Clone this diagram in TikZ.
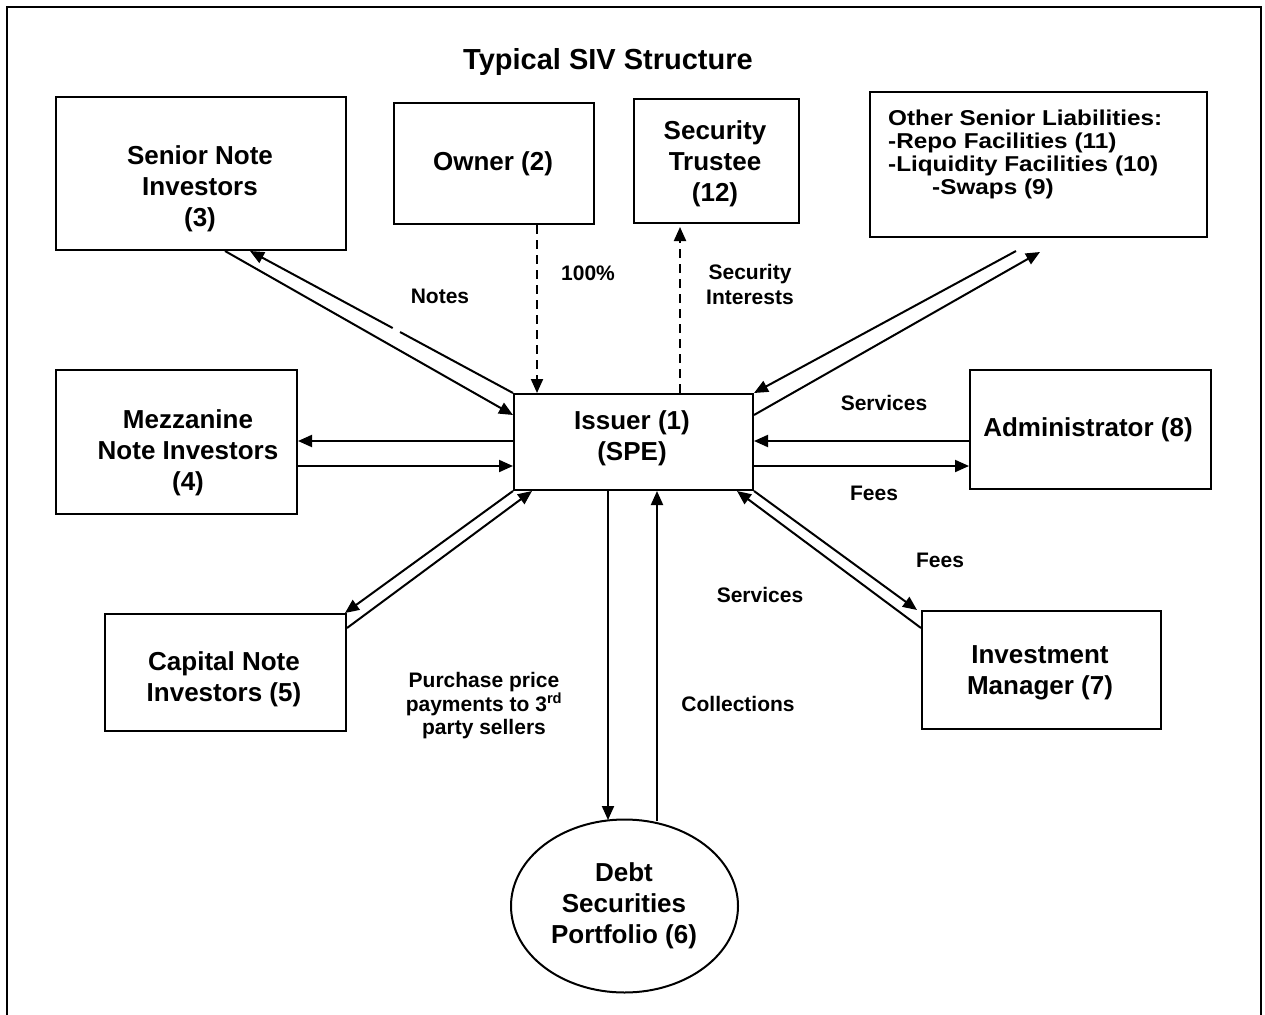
\documentclass[tikz,border=0pt]{standalone}
\usepackage{fontspec}
\usepackage{graphicx}
\setmainfont{Liberation Sans}
\usetikzlibrary{arrows.meta,calc,shapes.geometric}

% wide lettering used in the liabilities box
\newcommand{\widetext}[1]{\scalebox{1.13}[1]{#1}}

\begin{document}
\begin{tikzpicture}[x=1pt,y=-1pt,
  box/.style={draw, line width=2pt, inner sep=0pt, anchor=north west},
  btxt/.style={font=\fontsize{26}{31}\selectfont\bfseries, align=center, inner sep=0pt},
  lbl/.style={font=\fontsize{21}{24.5}\selectfont\bfseries, align=center, inner sep=0pt},
  arr/.style={line width=2pt, -{Triangle[length=14pt,width=12pt]}},
  darr/.style={arr, dash pattern=on 9pt off 6pt}
]
\useasboundingbox (0,0) rectangle (1265,1014);
% outer frame
\draw[line width=2.5pt] (7,7) rectangle (1261,1040);

% title
\node[font=\fontsize{29}{33}\selectfont\bfseries, inner sep=0pt] (title) at (608,62) {Typical SIV Structure};

% boxes
\node[box, minimum width=290pt, minimum height=153pt] (sni) at (55,96) {};
\node[btxt] (sni-t) at (200,189) {Senior Note\\Investors\\(3)};

\node[box, minimum width=200pt, minimum height=121pt] (own) at (393,102) {};
\node[btxt] (own-t) at (493,164) {Owner (2)};

\node[box, minimum width=165pt, minimum height=124pt] (trs) at (633,98) {};
\node[btxt] (trs-t) at (715,164) {Security\\Trustee\\(12)};

\node[box, minimum width=337pt, minimum height=145pt] (osl) at (869,91) {};
\node[font=\fontsize{21.5}{22.8}\selectfont\bfseries, align=left, inner sep=0pt, anchor=north west] (osl-t) at (888,110)
  {\widetext{Other Senior Liabilities:}\\\widetext{-Repo Facilities (11)}\\\widetext{-Liquidity Facilities (10)}\\\hspace*{44pt}\widetext{-Swaps (9)}};

\node[box, minimum width=241pt, minimum height=144pt] (mzz) at (55,369) {};
\node[btxt] (mzz-t) at (188,453) {Mezzanine\\Note Investors\\(4)};

\node[box, minimum width=239pt, minimum height=96pt] (iss) at (513,393) {};
\node[btxt] (iss-t) at (632,438) {Issuer (1)\\(SPE)};

\node[box, minimum width=241pt, minimum height=119pt] (adm) at (969,369) {};
\node[btxt] (adm-t) at (1088,430) {Administrator (8)};

\node[box, minimum width=241pt, minimum height=117pt] (cap) at (104,613) {};
\node[btxt] (cap-t) at (224,679) {Capital Note\\Investors (5)};

\node[box, minimum width=239pt, minimum height=118pt] (inv) at (921,610) {};
\node[btxt] (inv-t) at (1040,673) {Investment\\Manager (7)};

\node[draw, ellipse, line width=2pt, inner sep=0pt, minimum width=227pt, minimum height=173pt] (prt) at (624.5,906) {};
\node[btxt] (prt-t) at (624,906) {Debt\\Securities\\Portfolio (6)};

% connectors: senior notes
\coordinate (sni-in) at ($(sni.south west)+(195,0)$);
\draw[arr] (iss.north west) -- (sni-in);
% small break in the notes line
\draw[white, line width=3.5pt] ($(iss.north west)!0.43!(sni-in)$) -- ($(iss.north west)!0.457!(sni-in)$);
\draw[arr] ($(sni.south west)+(170,0)$) -- ($(iss.north west)+(0,22)$);
% mezzanine notes
\draw[arr] ($(iss.north west)+(0,48)$) -- ($(mzz.north east)+(0,72)$);
\draw[arr] ($(mzz.north east)+(0,97)$) -- ($(iss.north west)+(0,73)$);
% capital notes
\draw[arr] (iss.south west) -- ($(cap.north east)+(-2,0)$);
\draw[arr] ($(cap.north east)+(0,15)$) -- ($(iss.south west)+(19,0)$);
% portfolio
\draw[arr] ($(iss.south west)+(95,0)$) -- ($(prt.center)+(-16.5,-86)$);
\draw[arr] ($(prt.center)+(32.5,-85)$) -- ($(iss.south west)+(144,0)$);
% investment manager
\draw[arr] (iss.south east) -- ($(inv.north west)+(-4,0)$);
\draw[arr] ($(inv.north west)+(0,18)$) -- ($(iss.south east)+(-17,0)$);
% administrator
\draw[arr] ($(adm.north west)+(0,72)$) -- ($(iss.north east)+(0,48)$);
\draw[arr] ($(iss.north east)+(0,73)$) -- ($(adm.north west)+(0,97)$);
% other senior liabilities
\draw[arr] ($(osl.south west)+(147,13)$) -- (iss.north east);
\draw[arr] ($(iss.north east)+(0,22)$) -- ($(osl.south west)+(171,14)$);
% ownership and security
\draw[darr] ($(own.south west)+(144,0)$) -- ($(iss.north west)+(24,0)$);
\draw[darr] ($(iss.north west)+(167,0)$) -- ($(trs.south west)+(47,3)$);

% labels
\node[lbl] (l-notes) at (440,296) {Notes};
\node[lbl] (l-own) at (588,273) {100\%};
\node[lbl] (l-sec) at (750,284.5) {Security\\Interests};
\node[lbl] (l-serv1) at (884,403) {Services};
\node[lbl] (l-fees1) at (874,493) {Fees};
\node[lbl] (l-fees2) at (940,560) {Fees};
\node[lbl] (l-serv2) at (760,595) {Services};
\node[lbl] (l-coll) at (738,704) {Collections};
\node[lbl, font=\fontsize{21}{23.5}\selectfont\bfseries] (l-purch) at (484,706) {Purchase price\\payments to 3\textsuperscript{rd}\\party sellers};
\end{tikzpicture}
\end{document}
